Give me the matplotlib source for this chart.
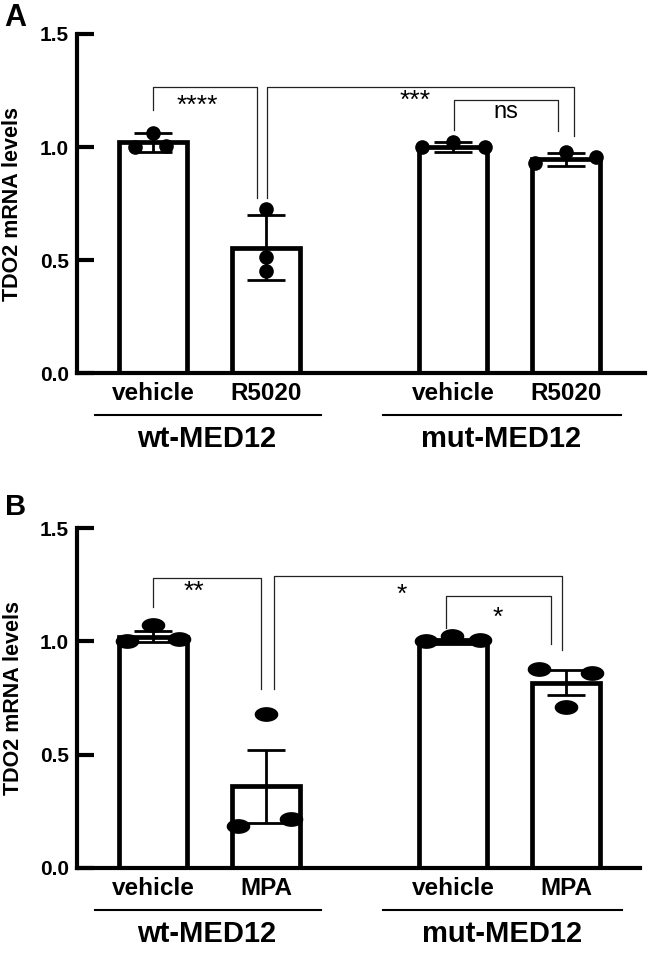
import numpy as np
import matplotlib
matplotlib.use('Agg')
import matplotlib.pyplot as plt
from matplotlib.path import Path

plt.rcParams['font.family'] = ['Liberation Sans', 'DejaVu Sans']

# 数据
labels_a = ['vehicle', 'R5020', 'vehicle', 'R5020']
labels_b = ['vehicle', 'MPA', 'vehicle', 'MPA']
groups = ['wt-MED12', 'mut-MED12']

mean_a = [1.02, 0.555, 1.0, 0.945]
err_a = [0.04, 0.145, 0.02, 0.03]
pts_a = [[1.0, 1.06, 1.005],
         [0.726, 0.513, 0.45],
         [1.0, 1.02, 1.0],
         [0.93, 0.98, 0.955]]

mean_b = [1.02, 0.36, 1.0, 0.817]
err_b = [0.025, 0.16, 0.01, 0.055]
pts_b = [[1.0, 1.07, 1.01],
         [0.68, 0.185, 0.216],
         [1.0, 1.025, 1.005],
         [0.88, 0.71, 0.86]]

# 显著性标记: (x1, x2, 顶部, 左脚, 右脚, 文字, 文字x, 文字y)
sig_a = [(0.0, 0.92, 1.265, 1.164, 0.774, '****', 0.39, 1.18),
         (1.01, 3.72, 1.265, 0.774, 1.05, '***', 2.32, 1.205),
         (2.66, 3.58, 1.21, 1.075, 1.07, 'ns', 3.12, 1.155)]
sig_b = [(0.0, 0.956, 1.28, 1.15, 0.79, '**', 0.36, 1.22),
         (1.07, 3.61, 1.29, 0.79, 0.96, '*', 2.2, 1.205),
         (2.59, 3.51, 1.20, 1.06, 0.99, '*', 3.04, 1.105)]

# 位置
xpos = np.array([0, 1, 2.65, 3.65])
jit_a = [[-0.16, 0, 0.11], [0, 0, 0], [-0.27, 0, 0.28], [-0.27, 0, 0.27]]
jit_b = [[-0.23, 0, 0.23], [0, -0.25, 0.22], [-0.24, -0.01, 0.24], [-0.24, 0, 0.23]]

t = np.linspace(0, 2 * np.pi, 60)
ellipse = Path(np.column_stack([np.cos(t), 0.6 * np.sin(t)]))


def draw_panel(ax, means, errs, pts, jit, labels, sig, marker, msize, xmax):
    ax.bar(xpos, means, width=0.6, color='white', edgecolor='k', linewidth=3.4, zorder=2)
    ax.errorbar(xpos, means, yerr=errs, fmt='none', ecolor='k', elinewidth=2,
                capsize=14, capthick=2, zorder=3)
    for i in range(4):
        ax.plot(xpos[i] + np.array(jit[i]), pts[i], linestyle='none', marker=marker,
                markersize=msize, color='k', zorder=4, clip_on=False)
    for x1, x2, top, l1, l2, txt, tx, ty in sig:
        ax.plot([x1, x1, x2, x2], [l1, top, top, l2], color='#222222', lw=0.9, zorder=1)
        ax.text(tx, ty, txt, ha='center', va='center',
                fontsize=17 if txt == 'ns' else 19)

    ax.set_xlim(-0.673, xmax)
    ax.set_ylim(0, 1.5)
    ax.set_yticks([0, 0.5, 1.0, 1.5])
    ax.set_yticklabels(['0.0', '0.5', '1.0', '1.5'], fontweight='bold', fontsize=15)
    ax.set_xticks([])
    ax.spines['top'].set_visible(False)
    ax.spines['right'].set_visible(False)
    ax.spines['left'].set_linewidth(3)
    ax.spines['bottom'].set_linewidth(3)
    ax.tick_params(axis='y', direction='in', length=12, width=3, pad=6)
    ax.set_ylabel('TDO2 mRNA levels', fontsize=15.5, fontweight='bold', va='center')
    ax.yaxis.set_label_coords(-0.113, 0.5)

    # 类别标签
    for i in range(4):
        ax.text(xpos[i], -0.09, labels[i], ha='center', va='center',
                fontsize=17.5, fontweight='bold', clip_on=False)
    ax.plot([-0.51, 1.48], [-0.185, -0.185], color='k', lw=1.5, clip_on=False)
    ax.plot([2.03, 4.14], [-0.185, -0.185], color='k', lw=1.5, clip_on=False)
    ax.text(0.47, -0.29, groups[0], ha='center', va='center',
            fontsize=21, fontweight='bold', clip_on=False)
    ax.text(3.08, -0.29, groups[1], ha='center', va='center',
            fontsize=21, fontweight='bold', clip_on=False)


fig = plt.figure(figsize=(6.5, 9.55), dpi=100)
ax1 = fig.add_axes([0.1185, 0.6094, 0.874, 0.355])
ax2 = fig.add_axes([0.1185, 0.0911, 0.866, 0.356])

draw_panel(ax1, mean_a, err_a, pts_a, jit_a, labels_a, sig_a, 'o', 9.5, 4.35)
draw_panel(ax2, mean_b, err_b, pts_b, jit_b, labels_b, sig_b, ellipse, 16, 4.3)

fig.text(0.006, 0.997, 'A', fontsize=22, fontweight='bold', va='top')
fig.text(0.008, 0.484, 'B', fontsize=21, fontweight='bold', va='top')

fig.savefig('out.png', dpi=100)
